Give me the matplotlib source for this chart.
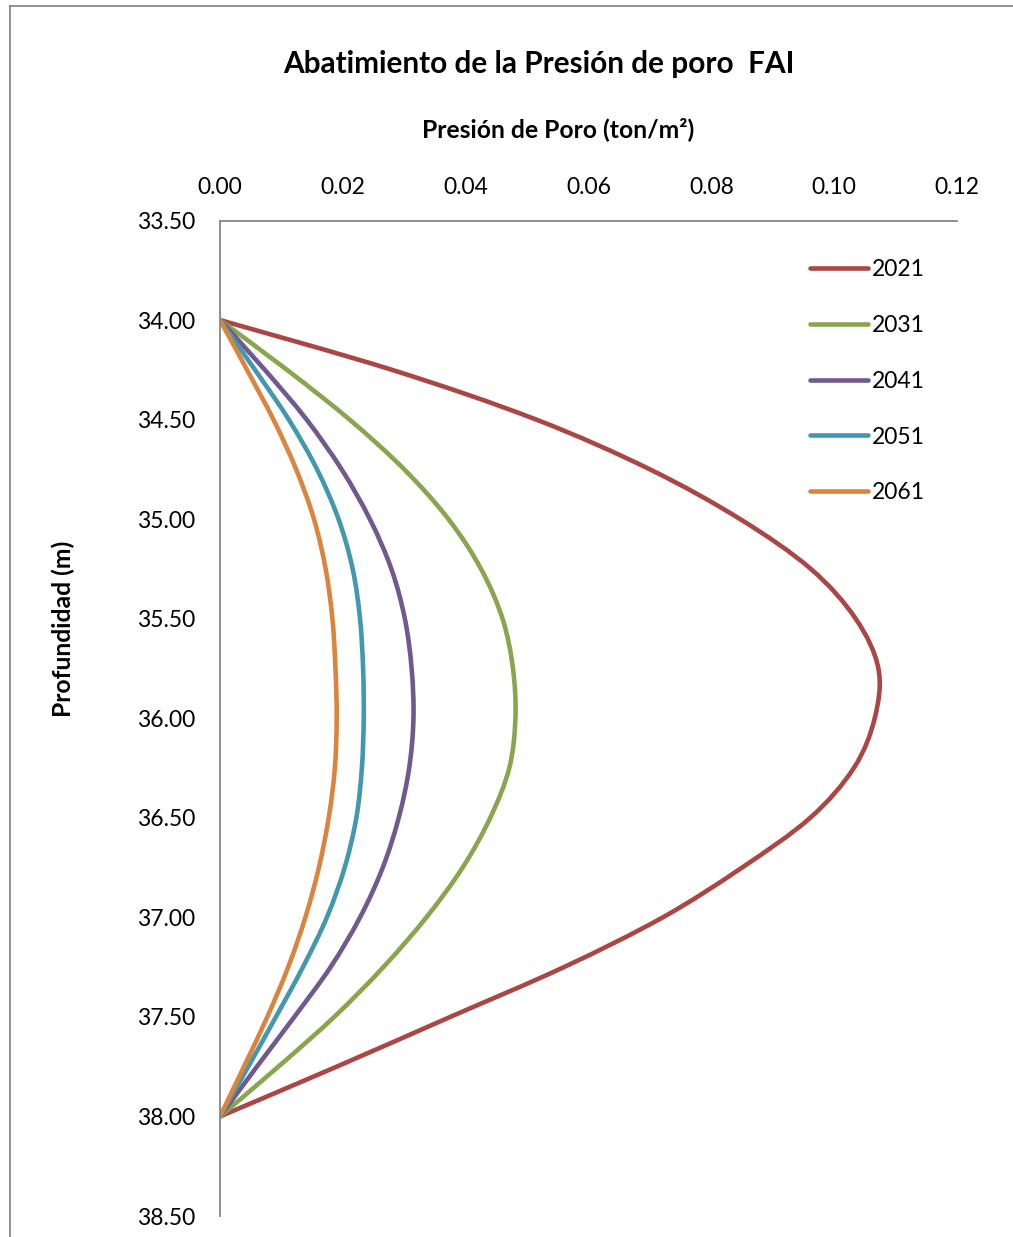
import numpy as np
import matplotlib
matplotlib.use("Agg")
import matplotlib.pyplot as plt
from matplotlib.lines import Line2D
from matplotlib.path import Path
from matplotlib.patches import PathPatch

plt.rcParams['font.family'] = ['Lato', 'DejaVu Sans']

# depth (m) and pore-pressure drop (ton/m2) per year
depth = [34.0, 34.25, 34.5, 34.75, 35.0, 35.25, 35.5, 35.75, 36.0,
         36.25, 36.5, 36.75, 37.0, 37.25, 37.5, 37.75, 38.0]

p2021 = [0.0, 0.0280, 0.0515, 0.0700, 0.0847, 0.0962, 0.1035, 0.1072, 0.1066,
         0.1032, 0.0961, 0.0850, 0.0721, 0.0560, 0.0375, 0.0190, 0.0]
p2031 = [0.0, 0.0109, 0.0211, 0.0300, 0.0372, 0.0425, 0.0460, 0.0477, 0.0481,
         0.0471, 0.0440, 0.0395, 0.0336, 0.0266, 0.0186, 0.0095, 0.0]
p2041 = [0.0, 0.0073, 0.0141, 0.0198, 0.0244, 0.0279, 0.0301, 0.0312, 0.0315,
         0.0308, 0.0291, 0.0265, 0.0228, 0.0180, 0.0121, 0.0060, 0.0]
p2051 = [0.0, 0.0057, 0.0112, 0.0158, 0.0193, 0.0216, 0.0228, 0.0233, 0.0234,
         0.0231, 0.0222, 0.0203, 0.0174, 0.0135, 0.0091, 0.0046, 0.0]
p2061 = [0.0, 0.0044, 0.0087, 0.0124, 0.0153, 0.0172, 0.0183, 0.0188, 0.0190,
         0.0187, 0.0177, 0.0161, 0.0139, 0.0111, 0.0077, 0.0039, 0.0]

years = ['2021', '2031', '2041', '2051', '2061']
series = [p2021, p2031, p2041, p2051, p2061]
colors = ['#AA4643', '#89A54E', '#71588F', '#4198AF', '#DB843D']

xticks = [0.0, 0.02, 0.04, 0.06, 0.08, 0.10, 0.12]
yticks = [33.5, 34.0, 34.5, 35.0, 35.5, 36.0, 36.5, 37.0, 37.5, 38.0, 38.5]


def smooth_path(xs, ys):
    # Excel-style smoothed line: Catmull-Rom segments as cubic Bezier
    pts = np.column_stack([xs, ys])
    ext = np.vstack([pts[0], pts, pts[-1]])
    verts = [pts[0]]
    codes = [Path.MOVETO]
    for i in range(1, len(ext) - 2):
        p0, p1, p2, p3 = ext[i - 1], ext[i], ext[i + 1], ext[i + 2]
        verts += [p1 + (p2 - p0) / 6, p2 - (p3 - p1) / 6, p2]
        codes += [Path.CURVE4] * 3
    return Path(verts, codes)


W, H = 1013, 1237
fig = plt.figure(figsize=(W / 100, H / 100), dpi=100)
ax = fig.add_axes([220 / W, 1 - 1216 / H, 737 / W, (1216 - 220.5) / H])

handles = []
for vals, yr, c in zip(series, years, colors):
    ax.add_patch(PathPatch(smooth_path(vals, depth), fill=False,
                           edgecolor=c, lw=3.3, capstyle='round'))
    handles.append(Line2D([], [], color=c, lw=3.3, solid_capstyle='round', label=yr))

ax.set_xlim(0, 0.12)
ax.set_ylim(38.5, 33.5)
ax.set_xticks(xticks)
ax.set_yticks(yticks)
ax.set_xticklabels(['%.2f' % v for v in xticks])
ax.set_yticklabels(['%.2f' % v for v in yticks])
ax.xaxis.tick_top()
ax.tick_params(axis='x', length=0, pad=16, labelsize=16.5)
ax.tick_params(axis='y', length=0, pad=18, labelsize=16.5)

for s in ['right', 'bottom']:
    ax.spines[s].set_visible(False)
for s in ['left', 'top']:
    ax.spines[s].set_color('#868686')
    ax.spines[s].set_linewidth(1.3)

# titles
fig.text(539 / W, 1 - 73 / H, 'Abatimiento de la Presión de poro  FAI',
         ha='center', va='baseline', fontsize=21.4, fontweight='bold')
fig.text(558 / W, 1 - 137 / H, 'Presión de Poro (ton/m²)',
         ha='center', va='baseline', fontsize=17.8, fontweight='bold')
fig.text(63 / W, 1 - 629 / H, 'Profundidad (m)', rotation=90,
         ha='center', va='center', fontsize=17.8, fontweight='bold')

fig.legend(handles=handles, loc='upper left', bbox_to_anchor=(810 / W, 1 - 259 / H),
           frameon=False, fontsize=16.5, handlelength=2.52,
           handletextpad=0.18, labelspacing=1.52, borderpad=0,
           borderaxespad=0)

# chart border (partially visible)
fig.add_artist(Line2D([10 / W, 10 / W], [0, 1 - 6 / H], color='#888888', lw=1.3))
fig.add_artist(Line2D([10 / W, 1], [1 - 6 / H, 1 - 6 / H], color='#888888', lw=1.3))

fig.savefig('out.png', dpi=100)
